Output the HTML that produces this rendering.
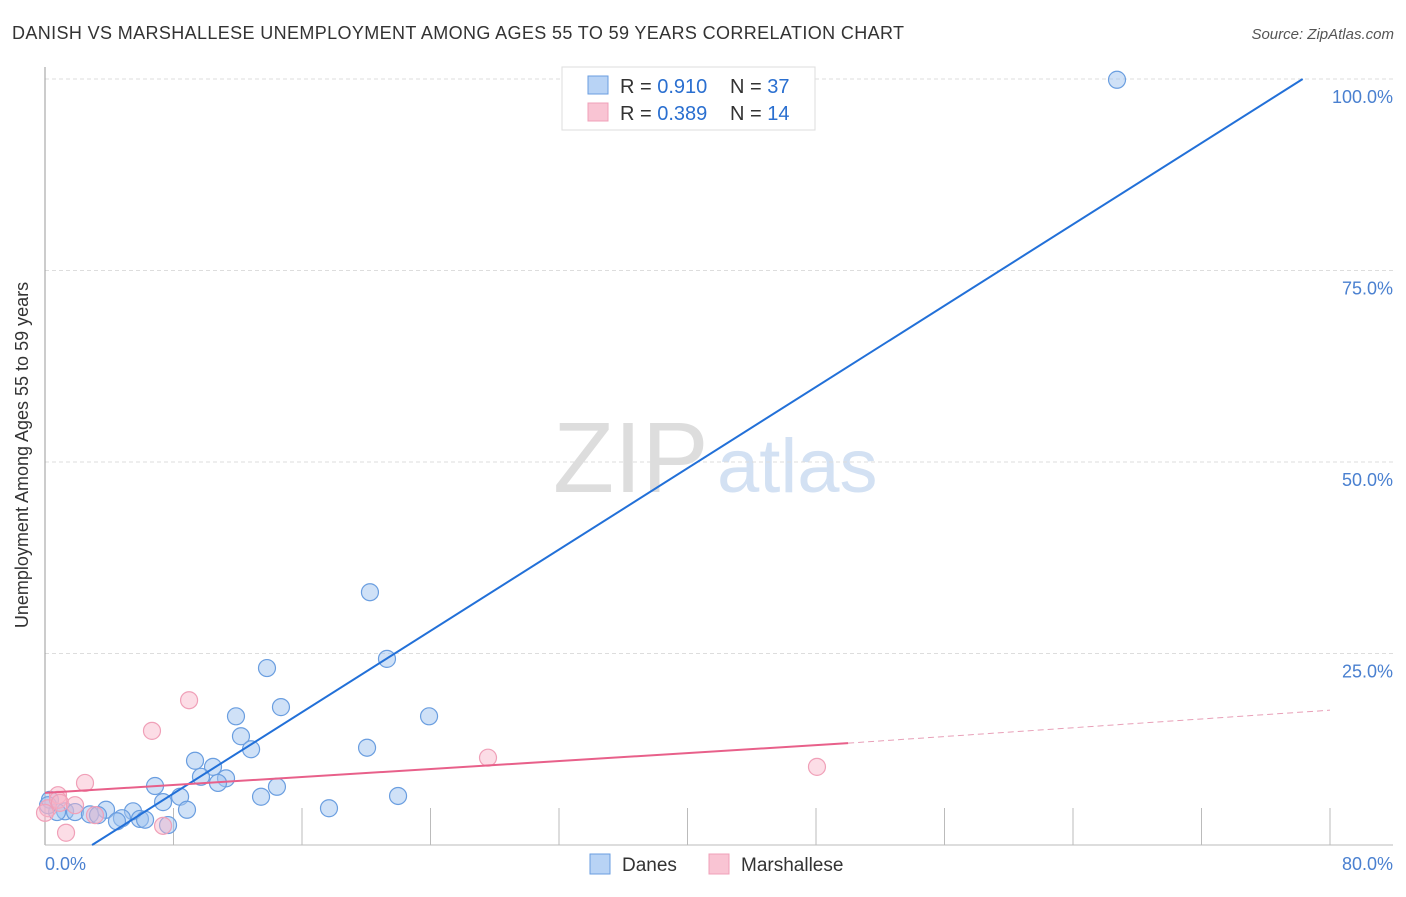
<!DOCTYPE html>
<html><head><meta charset="utf-8"><style>
body{margin:0;background:#fff;font-family:"Liberation Sans",sans-serif}
svg text{font-family:"Liberation Sans",sans-serif}
</style></head><body>
<svg id="chart" width="1406" height="892">
<text x="12" y="39" font-size="18" fill="#333" textLength="892">DANISH VS MARSHALLESE UNEMPLOYMENT AMONG AGES 55 TO 59 YEARS CORRELATION CHART</text>
<text x="1394" y="39" font-size="15" fill="#555" font-style="italic" text-anchor="end">Source: ZipAtlas.com</text>
<g>
<text x="553" y="492" font-size="100" fill="#ddd" font-family="Liberation Serif,serif">ZIP</text>
<text x="717" y="492" font-size="76" fill="#d3e1f3">atlas</text>
</g>
<g id="grid"></g>
<line x1="45" y1="67" x2="45" y2="845" stroke="#999"/>
<line x1="45" y1="845" x2="1393" y2="845" stroke="#bbb"/>
<g id="marks"></g>
<text x="28" y="455" font-size="18" fill="#333" text-anchor="middle" transform="rotate(-90 28 455)">Unemployment Among Ages 55 to 59 years</text>
<text x="45" y="870" font-size="18" fill="#4a80d0">0.0%</text>
<text x="1393" y="870" font-size="18" fill="#4a80d0" text-anchor="end">80.0%</text>
<g>
<rect x="562" y="67" width="253" height="63" fill="#fff" stroke="#ddd"/>
<rect x="588" y="76" width="20" height="18" fill="#b8d3f5" stroke="#6a9ee0"/>
<rect x="588" y="103" width="20" height="18" fill="#f9c4d3" stroke="#f0a0b8"/>
<text x="620" y="93" font-size="20" fill="#333">R = <tspan fill="#2a6fd0">0.910</tspan></text>
<text x="730" y="93" font-size="20" fill="#333">N = <tspan fill="#2a6fd0">37</tspan></text>
<text x="620" y="120" font-size="20" fill="#333">R = <tspan fill="#2a6fd0">0.389</tspan></text>
<text x="730" y="120" font-size="20" fill="#333">N = <tspan fill="#2a6fd0">14</tspan></text>
</g>
<g>
<rect x="590" y="854" width="20" height="20" fill="#b8d3f5" stroke="#6a9ee0"/>
<text x="622" y="871" font-size="19" fill="#333">Danes</text>
<rect x="709" y="854" width="20" height="20" fill="#f9c4d3" stroke="#f0a0b8"/>
<text x="741" y="871" font-size="19" fill="#333">Marshallese</text>
</g>
</svg>
<script>
const yTicks=[25,50,75,100];
const yTickLabels=["25.0%","50.0%","75.0%","100.0%"];
const xTicks=[8,16,24,32,40,48,56,64,72,80];
const danesX=[66.74,20.23,21.29,13.82,14.69,11.89,23.91,12.20,20.05,12.83,9.34,10.46,9.71,11.27,10.77,6.85,14.44,13.45,21.98,8.41,7.35,17.68,8.84,0.31,3.80,5.48,1.25,1.87,2.80,4.79,4.48,5.91,6.23,7.66,0.75,0.19,3.30];
const danesY=[99.9,33.0,24.3,23.1,18.0,16.8,16.8,14.2,12.7,12.5,11.0,10.2,8.9,8.7,8.1,7.7,7.6,6.3,6.4,6.3,5.6,4.8,4.6,5.9,4.6,4.4,4.4,4.3,4.0,3.5,3.1,3.4,3.3,2.6,4.3,5.2,3.9];
const marshX=[8.97,6.66,2.49,27.58,48.06,0.81,1.31,7.35,0.19,0.81,0.93,1.87,0,3.11];
const marshY=[18.9,14.9,8.1,11.4,10.2,6.5,1.6,2.5,4.8,5.9,5.5,5.2,4.2,3.9];
const danesFit=[[2.93,0],[78.3,100]];
const marshFit=[[0,6.8],[50,13.3],[80,17.6]];
const sx=v=>45+v*1285/80, sy=v=>845-v*766/100;
const NS="http://www.w3.org/2000/svg";
const grid=document.getElementById('grid'), marks=document.getElementById('marks');
function mk(tag,attrs,parent){const e=document.createElementNS(NS,tag);for(const k in attrs)e.setAttribute(k,attrs[k]);parent.appendChild(e);return e;}
yTicks.forEach((t,i)=>{
 const l=mk('line',{x1:45,x2:1393,y1:sy(t),y2:sy(t),stroke:'#ddd','stroke-dasharray':'4,3'},grid);
 
 
 const tx=mk('text',{x:1393,y:sy(t)+24,'font-size':18,fill:'#4a80d0','text-anchor':'end'},grid);
 tx.textContent=yTickLabels[i];
 
 
});
xTicks.forEach(t=>{
 const l=mk('line',{x1:sx(t),x2:sx(t),y1:808,y2:845,stroke:'#bbb'},grid);
 
 
});
danesX.forEach((x,i)=>{
 const c=mk('circle',{cx:sx(x),cy:sy(danesY[i]),r:8.5,fill:'rgba(160,196,240,0.5)',stroke:'#6a9ee0','stroke-width':1.2},marks);
 
 
});
marshX.forEach((x,i)=>{
 const c=mk('circle',{cx:sx(x),cy:sy(marshY[i]),r:8.5,fill:'rgba(248,180,200,0.45)',stroke:'#f0a0b8','stroke-width':1.2},marks);
 
 
});
const bl=mk('line',{x1:sx(danesFit[0][0]),y1:sy(danesFit[0][1]),x2:sx(danesFit[1][0]),y2:sy(danesFit[1][1]),stroke:'#2270d8','stroke-width':2},marks);


const pl=mk('line',{x1:sx(marshFit[0][0]),y1:sy(marshFit[0][1]),x2:sx(marshFit[1][0]),y2:sy(marshFit[1][1]),stroke:'#e8608a','stroke-width':2},marks);


const pd=mk('line',{x1:sx(marshFit[1][0]),y1:sy(marshFit[1][1]),x2:sx(marshFit[2][0]),y2:sy(marshFit[2][1]),stroke:'#e8a0b8','stroke-width':1,'stroke-dasharray':'6,4'},marks);


</script>
</body></html>
